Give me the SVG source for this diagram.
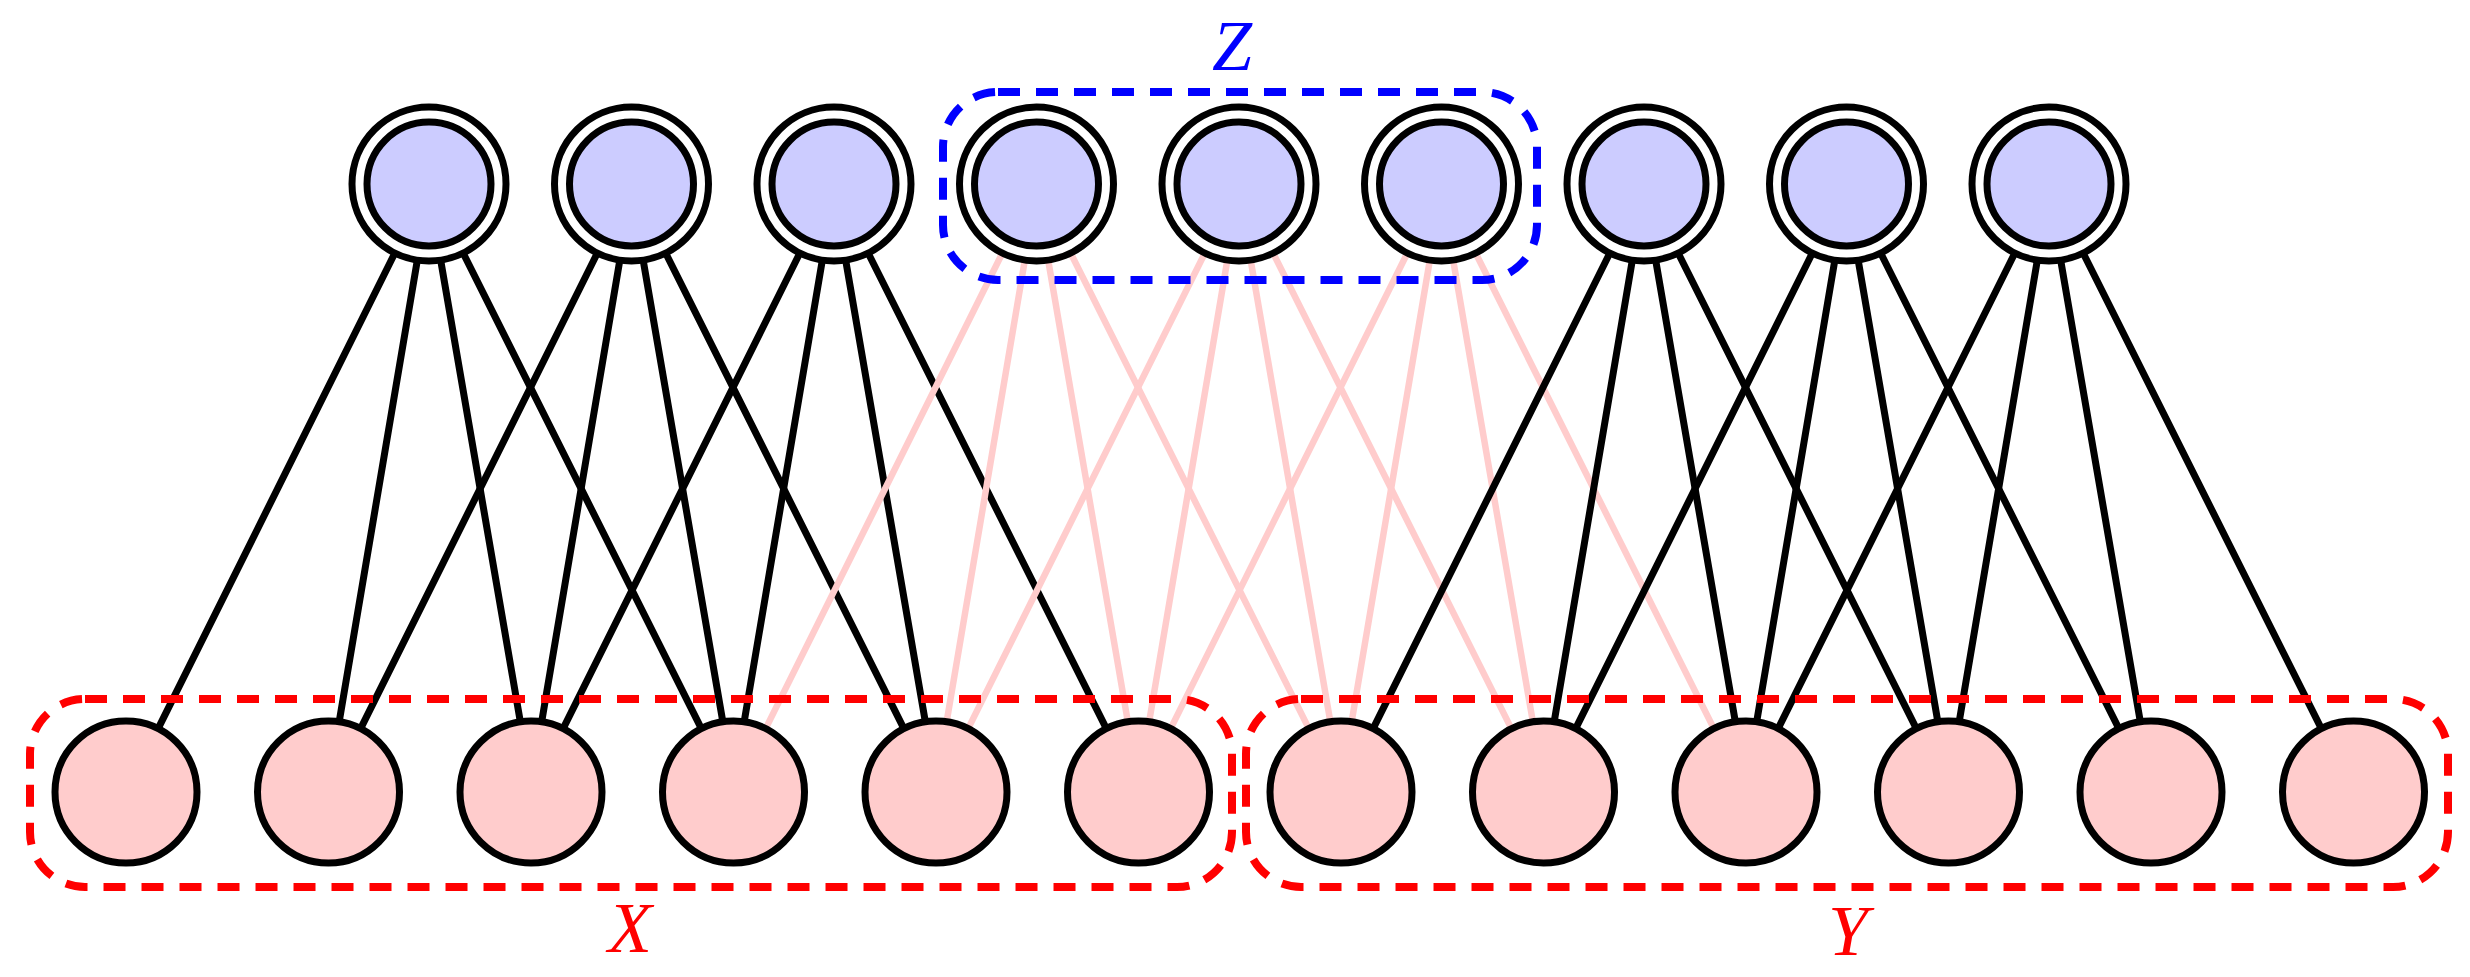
<svg xmlns="http://www.w3.org/2000/svg" width="2470" height="977" viewBox="0 0 2470 977">
<style>
.e{stroke:#000;stroke-width:7;fill:none}
.p{stroke:#FFCCCC;stroke-width:6.5;fill:none}
.to{fill:#fff;stroke:#000;stroke-width:7}
.ti{fill:#CCCCFF;stroke:#000;stroke-width:7}
.b{fill:#FFCCCC;stroke:#000;stroke-width:7}
.box{fill:none;stroke-width:8;stroke-dasharray:22 16}
.lbl{font-family:"Liberation Serif",serif;font-style:italic;font-size:72px;text-anchor:middle}
</style>
<g id="connectors">
<path class="e" d="M394,254.8L159,726.9M417,262.1L339.5,719.8M441,262.1L520,719.8M464,254.8L700.5,726.9"/>
<path class="e" d="M596.5,254.8L361.5,726.9M619.5,262.1L542,719.8M643.5,262.1L722.5,719.8M666.5,254.8L903,726.9"/>
<path class="e" d="M799,254.8L564,726.9M822,262.1L744.5,719.8M846,262.1L925,719.8M869,254.8L1105.5,726.9"/>
<path class="p" d="M1001.5,254.8L766.5,726.9M1024.5,262.1L947,719.8M1048.5,262.1L1127.5,719.8M1071.5,254.8L1308,726.9"/>
<path class="p" d="M1204,254.8L969,726.9M1227,262.1L1149.5,719.8M1251,262.1L1330,719.8M1274,254.8L1510.5,726.9"/>
<path class="p" d="M1406.5,254.8L1171.5,726.9M1429.5,262.1L1352,719.8M1453.5,262.1L1532.5,719.8M1476.5,254.8L1713,726.9"/>
<path class="e" d="M1609,254.8L1374,726.9M1632,262.1L1554.5,719.8M1656,262.1L1735,719.8M1679,254.8L1915.5,726.9"/>
<path class="e" d="M1811.5,254.8L1576.5,726.9M1834.5,262.1L1757,719.8M1858.5,262.1L1937.5,719.8M1881.5,254.8L2118,726.9"/>
<path class="e" d="M2014,254.8L1779,726.9M2037,262.1L1959.5,719.8M2061,262.1L2140,719.8M2084,254.8L2320.5,726.9"/>
</g>
<g id="t0"><circle class="to" cx="429" cy="184" r="77"/><circle class="ti" cx="429" cy="184" r="62"/></g>
<g id="t1"><circle class="to" cx="631.5" cy="184" r="77"/><circle class="ti" cx="631.5" cy="184" r="62"/></g>
<g id="t2"><circle class="to" cx="834" cy="184" r="77"/><circle class="ti" cx="834" cy="184" r="62"/></g>
<g id="t3"><circle class="to" cx="1036.5" cy="184" r="77"/><circle class="ti" cx="1036.5" cy="184" r="62"/></g>
<g id="t4"><circle class="to" cx="1239" cy="184" r="77"/><circle class="ti" cx="1239" cy="184" r="62"/></g>
<g id="t5"><circle class="to" cx="1441.5" cy="184" r="77"/><circle class="ti" cx="1441.5" cy="184" r="62"/></g>
<g id="t6"><circle class="to" cx="1644" cy="184" r="77"/><circle class="ti" cx="1644" cy="184" r="62"/></g>
<g id="t7"><circle class="to" cx="1846.5" cy="184" r="77"/><circle class="ti" cx="1846.5" cy="184" r="62"/></g>
<g id="t8"><circle class="to" cx="2049" cy="184" r="77"/><circle class="ti" cx="2049" cy="184" r="62"/></g>
<g id="b0"><circle class="b" cx="126" cy="792" r="71"/></g>
<g id="b1"><circle class="b" cx="328.5" cy="792" r="71"/></g>
<g id="b2"><circle class="b" cx="531" cy="792" r="71"/></g>
<g id="b3"><circle class="b" cx="733.5" cy="792" r="71"/></g>
<g id="b4"><circle class="b" cx="936" cy="792" r="71"/></g>
<g id="b5"><circle class="b" cx="1138.5" cy="792" r="71"/></g>
<g id="b6"><circle class="b" cx="1341" cy="792" r="71"/></g>
<g id="b7"><circle class="b" cx="1543.5" cy="792" r="71"/></g>
<g id="b8"><circle class="b" cx="1746" cy="792" r="71"/></g>
<g id="b9"><circle class="b" cx="1948.5" cy="792" r="71"/></g>
<g id="b10"><circle class="b" cx="2151" cy="792" r="71"/></g>
<g id="b11"><circle class="b" cx="2353.5" cy="792" r="71"/></g>
<g id="groupX"><rect class="box" stroke="#FF0000" x="30" y="699" width="1202" height="188" rx="55" ry="55"/><text class="lbl" fill="#FF0000" x="630" y="952">X</text></g>
<g id="groupY"><rect class="box" stroke="#FF0000" x="1246" y="699" width="1202" height="188" rx="55" ry="55"/><text class="lbl" fill="#FF0000" x="1848" y="955">Y</text></g>
<g id="groupZ"><rect class="box" stroke="#0000FF" x="943" y="92" width="594" height="188" rx="55" ry="55"/><text class="lbl" fill="#0000FF" x="1232" y="70">Z</text></g>
</svg>
